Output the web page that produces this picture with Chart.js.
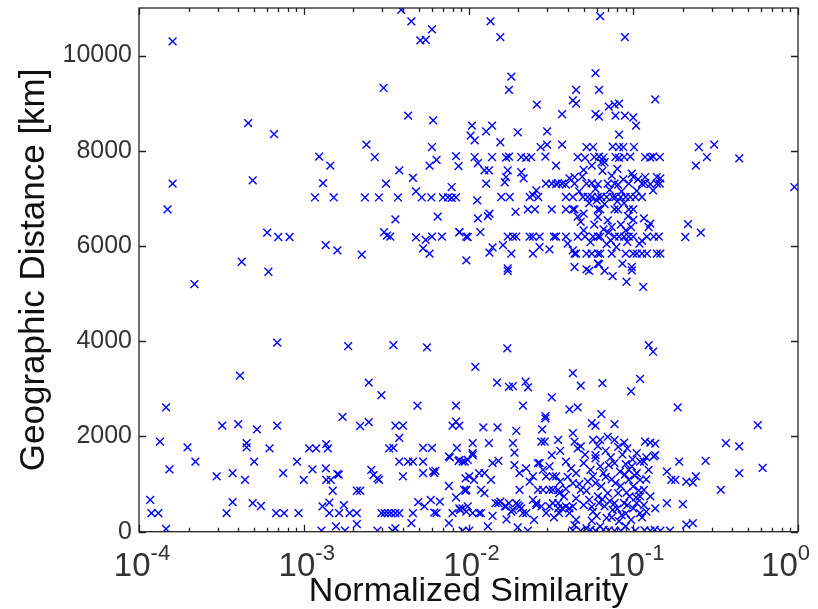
<!DOCTYPE html>
<html>
<head>
<meta charset="utf-8">
<script src="https://cdn.jsdelivr.net/npm/chart.js@4.4.1/dist/chart.umd.min.js"></script>
<style>
  body { margin: 0; background: #fff; }
  canvas { display: block; }
</style>
</head>
<body>
<canvas id="graph" width="818" height="609"></canvas>
<script>
// [normalized similarity, geographic distance in km]
var farPairs = [
  [1.6e-4,10300],[3.9e-3,10960],[4.5e-3,10720],[5.1e-3,10320],[5.5e-3,10330],[6.0e-3,10550],[3.05e-3,9320],
  [4.6e-4,8580],[6.6e-4,8350],[4.3e-3,8740],[6.1e-3,8640],[2.4e-3,8130],[1.24e-3,7880],[1.45e-3,7690],
  [2.7e-3,7870],[6.0e-3,8080],[6.4e-3,7810],[5.8e-3,7690],[8.4e-3,7890],[8.7e-3,7680],[3.8e-3,7590],
  [4.6e-3,7430],[1.6e-4,7310],[4.9e-4,7380],[1.31e-3,7320],[3.16e-3,7310],[4.8e-3,7150],[7.9e-3,7240],
  [1.17e-3,7020],[1.52e-3,7020],[2.35e-3,7020],[2.86e-3,7020],[3.73e-3,7020],[5.2e-3,7020],[5.95e-3,7020],
  [7.0e-3,7020],[7.5e-3,7020],[7.9e-3,7010],[8.4e-3,7020],[1.49e-4,6770],[3.6e-3,6560],[6.5e-3,6620],
  [6.0e-4,6280],[7.0e-4,6190],[8.2e-4,6190],[3.07e-3,6290],[3.2e-3,6220],[3.35e-3,6200],[4.8e-3,6180],
  [5.5e-3,6130],[6.0e-3,6200],[6.9e-3,6200],[8.8e-3,6290],[9.7e-3,6200],[1.36e-3,6020],[1.6e-3,5910],
  [2.25e-3,5820],[5.3e-3,5950],[5.8e-3,5840],[4.2e-4,5670],[9.7e-3,5700],[6.1e-4,5460],[2.17e-4,5200],
  [1.36e-2,10720],[1.56e-2,10390],[6.3e-2,10830],[8.9e-2,10390],[1.82e-2,9560],[1.76e-2,9280],[5.9e-2,9630],
  [6.2e-2,9280],[4.5e-2,9280],[0.136,9080],[2.6e-2,8970],[4.3e-2,9060],[4.5e-2,8990],[3.7e-2,8770],
  [5.9e-2,8770],[6.2e-2,8720],[7.1e-2,8930],[7.7e-2,8970],[8.2e-2,8990],[7.8e-2,8740],[8.9e-2,8740],
  [0.1,8700],[0.104,8530],[8.2e-2,8340],[1.05e-2,8530],[1.03e-2,8320],[1.09e-2,8220],[1.28e-2,8410],
  [1.39e-2,8530],[1.56e-2,8180],[1.99e-2,8390],[3.0e-2,8410],[3.0e-2,8130],[2.74e-2,8080],[3.7e-2,8130],
  [5.2e-2,8080],[5.7e-2,8080],[7.5e-2,8090],[8.2e-2,8080],[8.7e-2,8080],[0.101,8080],
  [0.25,8080],[0.31,8130],[0.28,7870],[0.24,7690],[0.44,7840],[0.95,7240],
  [1.09e-2,7870],[1.39e-2,7870],[1.69e-2,7860],[1.76e-2,7880],[2.09e-2,7870],[2.24e-2,7850],[2.4e-2,7870],
  [2.93e-2,7880],[4.6e-2,7870],[5.1e-2,7850],[5.8e-2,7870],[6.2e-2,7880],[6.6e-2,7860],[7.8e-2,7870],
  [8.2e-2,7850],[8.8e-2,7870],[9.6e-2,7880],[0.118,7870],[0.127,7860],[0.132,7880],[0.145,7870],
  [1.14e-2,7740],[1.25e-2,7590],[1.33e-2,7590],[3.4e-2,7690],[5.6e-2,7690],[6.4e-2,7750],[6.7e-2,7760],
  [9.8e-2,7520],[0.1,7450],[0.118,7450],[0.139,7450],[0.146,7420],[1.73e-2,7590],[1.69e-2,7450],
  [1.66e-2,7340],[2.09e-2,7550],[2.16e-2,7420],[1.28e-2,7310],
  [2.95e-2,7310],[3.2e-2,7310],[3.4e-2,7300],[3.5e-2,7320],[3.7e-2,7310],[3.9e-2,7290],[4.4e-2,7310],
  [5.2e-2,7310],[5.6e-2,7320],[6.1e-2,7300],[7.0e-2,7310],[7.7e-2,7310],[8.1e-2,7290],[9.4e-2,7310],
  [0.113,7310],[0.118,7320],[0.127,7300],[0.139,7310],[0.145,7310],
  [4.1e-2,7420],[4.4e-2,7450],[2.58e-2,7170],[2.46e-2,7070],[0.132,7170],
  [1.13e-2,6960],[1.58e-2,7030],[1.78e-2,7030],[2.35e-2,7030],[2.65e-2,7030],[3.9e-2,7030],[4.3e-2,7030],
  [4.95e-2,7030],[5.3e-2,7030],[5.6e-2,7030],[6.1e-2,7030],[6.4e-2,7030],[6.9e-2,7030],[7.5e-2,7030],
  [7.8e-2,7030],[8.4e-2,7030],[9.0e-2,7030],[9.6e-2,7030],[0.103,7030],[0.113,7030],[1.93e-2,6720],
  [2.29e-2,6770],[2.53e-2,6770],[3.2e-2,6770],[3.9e-2,6770],[4.3e-2,6770],[4.4e-2,6770],[6.1e-2,6770],
  [6.3e-2,6770],[7.7e-2,6770],[8.1e-2,6770],[9.4e-2,6770],[0.1,6770],
  [1.14e-2,6580],[1.31e-2,6630],[1.34e-2,6680],[5.0e-2,6680],[4.8e-2,6510],[6.1e-2,6610],[7.0e-2,6540],
  [7.4e-2,6400],[0.116,6580],[0.127,6470],[0.124,6400],[0.215,6460],[0.207,6190],[0.257,6280],
  [8.8e-3,6290],[9.9e-3,6190],[1.18e-2,6290],[1.62e-2,6020],[1.4e-2,5970],[1.34e-2,5860],
  [1.73e-2,6200],[1.86e-2,6200],[1.95e-2,6200],[2.35e-2,6200],[2.46e-2,6200],[2.7e-2,6200],[3.3e-2,6200],
  [3.4e-2,6200],[3.9e-2,6200],[4.6e-2,6200],[5.1e-2,6200],[5.7e-2,6200],[6.1e-2,6200],[6.3e-2,6200],
  [7.7e-2,6200],[8.2e-2,6200],[8.8e-2,6200],[9.4e-2,6200],[0.1,6200],[0.121,6200],[0.133,6200],[0.143,6200],
  [2.7e-2,5980],[3.1e-2,5930],[4.0e-2,6050],[4.3e-2,5910],[4.5e-2,5840],
  [1.82e-2,5840],[2.46e-2,5840],[4.4e-2,5840],[5.2e-2,5840],[5.6e-2,5840],[6.1e-2,5840],[6.3e-2,5840],
  [7.4e-2,5840],[9.0e-2,5840],[0.1,5840],[0.105,5840],[0.113,5840],[0.121,5840],[0.139,5840],[0.146,5840],
  [1.73e-2,5530],[4.4e-2,5560],[5.2e-2,5510],[6.1e-2,5630],[9.8e-2,5560],[1.73e-2,5480],[5.4e-2,5480],
  [6.2e-2,5620],[6.7e-2,5480],[7.5e-2,5370],[8.6e-2,5630],[9.1e-2,5250],[9.8e-2,5490],[0.115,5140],
  [5.0e-2,7600],[6.5e-2,7580],[8.0e-2,7620],[4.7e-2,7150],[5.9e-2,7200],[7.2e-2,7180],[8.5e-2,7150],
  [0.105,7160],[5.4e-2,6900],[6.7e-2,6880],[8.8e-2,6900],[4.6e-2,6620],[5.8e-2,6450],[6.6e-2,6350],
  [8.4e-2,6450],[0.1,6550],[9.0e-2,6330],[0.109,6050],[7.9e-2,5980],[6.9e-2,6040],
  [5.5e-2,6080],[7.3e-2,6120],[9.2e-2,6090],[0.113,6110],[5.0e-2,6330],[7.1e-2,6280],[9.7e-2,6400],
  [4.9e-2,7460],[7.4e-2,7480],[8.7e-2,7400],[0.107,7400],[6.0e-2,6960],[8.0e-2,6940],[9.3e-2,6630]
];

var nearPairs = [
  [6.9e-4,3970],[1.86e-3,3900],[3.5e-3,3920],[5.6e-3,3870],[4.1e-4,3280],[2.48e-3,3130],[2.96e-3,2870],
  [1.46e-4,2610],[4.9e-3,2650],[8.4e-3,2650],[1.72e-3,2410],[3.2e-4,2230],[4.0e-4,2260],[6.9e-4,2230],
  [5.2e-4,2150],[2.2e-3,2220],[2.48e-3,2300],[3.6e-3,2230],[4.0e-3,2230],[3.8e-3,1970],[8.0e-3,2230],
  [8.4e-3,2310],[8.8e-3,2230],[1.34e-4,1890],[1.97e-4,1770],[4.5e-4,1860],[4.5e-4,1770],[6.2e-4,1750],
  [1.08e-3,1750],[1.19e-3,1750],[1.37e-3,1840],[1.4e-3,1750],[3.3e-3,1750],[3.5e-3,1760],[5.3e-3,1760],
  [6.0e-3,1760],[7.6e-3,1580],[8.5e-3,1760],[2.2e-4,1470],[5.0e-4,1470],[9.1e-4,1470],[1.53e-4,1310],
  [1.13e-3,1310],[1.36e-3,1330],[3.8e-3,1470],[4.3e-3,1470],[4.6e-3,1470],[5.3e-3,1470],[8.7e-3,1480],
  [9.5e-3,1470],[2.96e-4,1160],[3.7e-4,1230],[4.4e-4,1090],[7.5e-4,1230],[1.0e-3,1090],[1.37e-3,1090],
  [1.46e-3,1090],[1.6e-3,1210],[1.63e-3,1200],[2.57e-3,1300],[2.65e-3,1190],[2.8e-3,1120],[2.86e-3,1090],
  [4.0e-3,1160],[5.3e-3,1230],[6.1e-3,1260],[6.2e-3,1230],[6.3e-3,1280],[9.6e-3,1120],[9.6e-3,860],
  [1.5e-3,860],[2.1e-3,860],[2.2e-3,860],[7.6e-3,960],
  [1.17e-4,670],[1.19e-4,390],[1.31e-4,390],[1.46e-4,60],[3.4e-4,390],[3.7e-4,620],[4.9e-4,600],
  [5.5e-4,540],[6.8e-4,390],[7.6e-4,390],[9.3e-4,390],[1.28e-3,20],[1.3e-3,530],[1.43e-3,610],
  [1.43e-3,390],[1.57e-3,110],[1.64e-3,390],[1.75e-3,560],[1.9e-3,390],[2.1e-3,390],[1.78e-3,20],
  [2.1e-3,160],[2.8e-3,20],[2.96e-3,390],[3.1e-3,390],[3.25e-3,390],[3.4e-3,390],[3.6e-3,390],[3.8e-3,390],
  [3.45e-3,20],[3.6e-3,70],[4.5e-3,180],[4.6e-3,390],[4.95e-3,620],[5.4e-3,530],[5.9e-3,670],[6.2e-3,400],
  [6.4e-3,390],[6.7e-3,630],[7.6e-3,180],[8.0e-3,390],[8.4e-3,720],[8.9e-3,460],[9.2e-3,490],[9.4e-3,880],
  [9.9e-3,530],[9.2e-3,20],
  [0.57,2240],[0.365,1860],[0.44,1790],[0.275,1490],[0.24,1160],[0.44,1230],[0.61,1340],[0.34,880],[0.23,180],
  [1.72e-2,3850],[0.124,3920],[0.132,3780],[1.1e-2,3460],[4.3e-2,3330],[0.11,3210],[1.49e-2,3130],
  [1.76e-2,3040],[1.86e-2,3060],[2.22e-2,3150],[2.3e-2,3030],[4.8e-2,3070],[6.5e-2,3120],[9.7e-2,2950],
  [3.2e-2,2820],[2.14e-2,2650],[0.186,2610],[4.1e-2,2570],[4.6e-2,2610],[2.93e-2,2430],[2.93e-2,2380],
  [6.4e-2,2470],[5.6e-2,2280],[5.9e-2,2230],[7.7e-2,2260],
  [1.23e-2,2190],[1.5e-2,2190],[1.95e-2,2120],[2.8e-2,2150],[2.77e-2,1890],[2.9e-2,1890],[3.5e-2,1930],
  [4.3e-2,2070],[4.4e-2,1890],[4.8e-2,1790],[5.7e-2,1930],[6.3e-2,1930],[7.0e-2,1990],[7.7e-2,1930],
  [8.8e-2,1870],[0.118,1890],[0.127,1870],[0.136,1850],[1.06e-2,1860],[1.33e-2,1860],[1.86e-2,1860],
  [1.06e-2,1650],[9.2e-3,1470],[1.9e-2,1660],[3.2e-2,1610],[3.6e-2,1700],[5.9e-2,1610],[5.9e-2,1540],
  [0.105,1650],[0.116,1470],[0.133,1580],[0.19,1470],[0.17,1090],[0.23,1030],[0.2,580],[0.21,150],
  [0.21,1050],[0.18,1090],[0.136,1610],[0.11,1470],[0.16,1260],
  [1.16e-2,1230],[1.25e-2,1230],[1.01e-2,1160],[1.08e-2,1090],[1.37e-2,1090],[1.4e-2,1440],[1.52e-2,1490],
  [1.9e-2,1400],[2.04e-2,1230],[2.24e-2,1330],[2.46e-2,1160],[2.64e-2,1440],[2.83e-2,1300],[2.96e-2,1160],
  [3.1e-2,1370],[3.4e-2,1160],[9.7e-3,880],[1.19e-2,880],[1.25e-2,810],[2.04e-2,880],[2.35e-2,1050],
  [2.64e-2,880],[3.1e-2,880],[3.5e-2,880],[3.55e-2,810],
  [8.8e-3,490],[9.7e-3,420],[1.06e-2,390],[1.19e-2,390],[1.4e-2,330],[1.46e-2,600],[1.56e-2,630],
  [1.66e-2,530],[1.76e-2,600],[1.86e-2,460],[1.99e-2,560],[2.09e-2,490],[2.24e-2,390],[2.46e-2,670],
  [2.58e-2,560],[2.77e-2,530],[2.96e-2,390],[3.25e-2,600],[3.5e-2,490],[3.55e-2,390],[3.9e-2,530],[4.1e-2,490],
  [1.31e-2,110],[1.99e-2,90],[2.29e-2,20],[4.4e-2,140],[5.2e-2,70],[6.3e-2,110],[6.6e-2,40],[7.7e-2,20],
  [9.0e-2,110],[0.103,20],[0.127,20],[0.146,20],[0.167,20],[1.01e-2,20],
  [2.7e-2,1440],[3.25e-2,1160],[3.9e-2,1470],[4.2e-2,1330],[4.5e-2,1230],[5.0e-2,1440],[5.5e-2,1300],
  [5.7e-2,1160],[6.3e-2,1370],[7.1e-2,1400],[7.7e-2,1440],[8.3e-2,1260],[9.4e-2,1300],[9.8e-2,1370],
  [0.105,1230],[0.11,1090],[9.4e-2,1090],[0.1,950],[0.116,880],[0.11,740],[9.5e-2,740],[8.8e-2,600],
  [7.7e-2,600],[8.1e-2,810],[7.0e-2,810],[6.4e-2,950],[6.1e-2,740],[5.4e-2,670],[4.8e-2,880],[4.3e-2,1020],
  [3.8e-2,740],[3.5e-2,600],[3.1e-2,530],[2.83e-2,880],[3.25e-2,880],[3.7e-2,490],[4.3e-2,530],[5.0e-2,560],
  [5.7e-2,420],[6.7e-2,530],[7.5e-2,460],[8.5e-2,350],[0.1,490],[0.11,390],[0.127,740],[0.136,490],
  [0.16,600],[4.1e-2,390],
  [7.7e-3,1560],[8.8e-3,1510],[9.9e-3,1510],[1.06e-2,1610],[1.16e-2,390],[1.52e-2,600],[1.69e-2,530],
  [1.82e-2,420],[1.95e-2,600],[2.04e-2,530],[2.14e-2,390],[2.58e-2,600],
  [4.6e-2,1750],[5.1e-2,1620],[6.8e-2,1700],[7.3e-2,1560],[8.6e-2,1620],[9.2e-2,1750],[9.9e-2,1520],
  [5.3e-2,1050],[6.8e-2,1150],[7.8e-2,1020],[8.9e-2,1200],[0.12,1100],[0.124,1300],[4.5e-2,250],
  [5.6e-2,230],[6.9e-2,290],[8.2e-2,220],[9.7e-2,250],[0.113,300],[6.2e-2,600],[9.1e-2,820],[0.105,600],
  [0.12,420],[4.3e-2,30],[4.8e-2,20],[5.5e-2,40],[5.9e-2,20],[7.1e-2,30],[8.4e-2,20],[0.117,30],[0.135,40],
  [4.0e-2,1150],[4.7e-2,1000],[5.2e-2,860],[5.9e-2,1020],[6.6e-2,1230],[7.4e-2,1100],[8.4e-2,960],
  [9.0e-2,1420],[0.102,1180],[0.108,870],[3.6e-2,1050],[3.9e-2,900],[4.5e-2,700],[5.6e-2,520],
  [6.5e-2,680],[7.2e-2,640],[8.0e-2,480],[9.2e-2,560],[0.104,720],[0.116,560],[6.0e-2,330],[7.4e-2,300],
  [3.3e-2,300],[2.5e-2,250],[1.7e-2,260],[9.0e-2,380],[0.12,1560],[6.1e-2,1800],[8.1e-2,1780]
];

var xDecades = [1e-4, 1e-3, 1e-2, 1e-1, 1];
var xExponents = ['-4', '-3', '-2', '-1', '0'];
var yTicks = [0, 2000, 4000, 6000, 8000, 10000];

var fontFam = '"Liberation Sans", Arial, sans-serif';
var blue = 'rgb(0,0,255)';

function toPoints(pairs){
    return pairs.map(function(p){ return {x: p[0], y: p[1]}; });
}

// box, inward tick marks and the 10^n labels, placed with the chart's own scales
var axisDecor = {
    id: 'axisDecor',
    afterDraw: function(chart){
        var c = chart.ctx;
        var a = chart.chartArea;
        var xs = chart.scales.x;
        var ys = chart.scales.y;
        c.save();
        c.strokeStyle = '#222';
        c.lineWidth = 1.3;
        c.strokeRect(a.left, a.top, a.right - a.left, a.bottom - a.top);
        c.beginPath();
        for(let d = 0; d < xDecades.length; d++){
            for(let m = 1; m <= 9; m++){
                let v = xDecades[d] * m;
                if(v > 1) break;
                let px = Math.round(xs.getPixelForValue(v)) + 0.5;
                let len = m === 1 ? 7 : 4;
                c.moveTo(px, a.bottom); c.lineTo(px, a.bottom - len);
                c.moveTo(px, a.top); c.lineTo(px, a.top + len);
            }
        }
        yTicks.forEach(function(v){
            let py = Math.round(ys.getPixelForValue(v)) + 0.5;
            c.moveTo(a.left, py); c.lineTo(a.left + 7, py);
            c.moveTo(a.right, py); c.lineTo(a.right - 7, py);
        });
        c.stroke();
        // x tick labels: 10 with a raised exponent
        c.fillStyle = '#333';
        c.textBaseline = 'alphabetic';
        c.textAlign = 'left';
        xDecades.forEach(function(v, i){
            c.font = '33px ' + fontFam;
            let wBase = c.measureText('10').width;
            c.font = '22px ' + fontFam;
            let wExp = c.measureText(xExponents[i]).width;
            let left = xs.getPixelForValue(v) + 3 - (wBase + wExp) / 2;
            if(left + wBase + wExp > chart.width - 8) left = chart.width - 8 - wBase - wExp;
            c.font = '33px ' + fontFam;
            c.fillText('10', left, xs.top + 44);
            c.font = '22px ' + fontFam;
            c.fillText(xExponents[i], left + wBase, xs.top + 28);
        });
        c.restore();
    }
};

var ctx = document.getElementById('graph').getContext('2d');
var chart = new Chart(ctx, {
    type: 'scatter',
    data: {
        datasets: [
            {label: 'far', data: toPoints(farPairs)},
            {label: 'near', data: toPoints(nearPairs)}
        ]
    },
    options: {
        responsive: false,
        animation: false,
        devicePixelRatio: 1,
        layout: {padding: {top: 8, right: 20, left: 0, bottom: 0}},
        elements: {
            point: {
                pointStyle: 'crossRot',
                radius: 5.5,
                borderWidth: 1.4,
                borderColor: blue,
                backgroundColor: blue
            }
        },
        plugins: {
            legend: {display: false},
            tooltip: {enabled: false}
        },
        scales: {
            x: {
                type: 'logarithmic',
                min: 1e-4,
                max: 1,
                grid: {display: false},
                border: {display: false},
                ticks: {display: false},
                title: {
                    display: true,
                    text: 'Normalized Similarity',
                    color: '#111',
                    font: {family: fontFam, size: 34, lineHeight: 1},
                    padding: {top: 0, bottom: 0}
                },
                afterFit: function(s){
                    s.height = 77.3;
                    s.paddingLeft = 0; s.paddingRight = 0;
                }
            },
            y: {
                min: 0,
                max: 11000,
                grid: {display: false, drawTicks: false},
                border: {display: false},
                afterBuildTicks: function(s){
                    s.ticks = yTicks.map(function(v){ return {value: v}; });
                },
                ticks: {
                    color: '#333',
                    padding: 7,
                    font: {family: fontFam, size: 25},
                    callback: function(v){ return String(v); }
                },
                title: {
                    display: true,
                    text: 'Geographic Distance [km]',
                    color: '#111',
                    font: {family: fontFam, size: 35, lineHeight: 1},
                    padding: {top: 17, bottom: 0}
                },
                afterFit: function(s){
                    s.width = 139;
                    s.paddingTop = 0; s.paddingBottom = 0;
                }
            }
        }
    },
    plugins: [axisDecor]
});
</script>
</body>
</html>
